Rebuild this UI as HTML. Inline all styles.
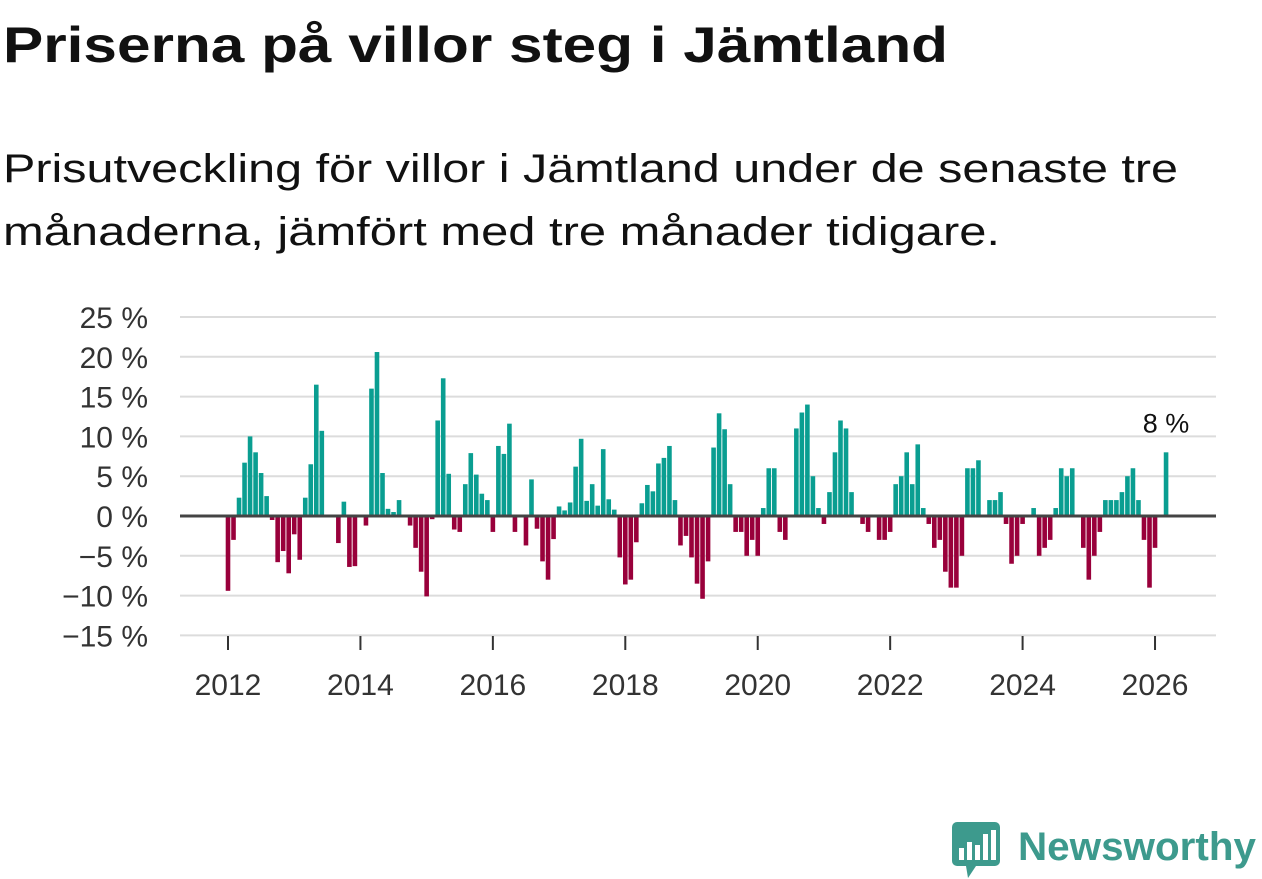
<!DOCTYPE html>
<html><head><meta charset="utf-8"><style>
html,body{margin:0;padding:0;background:#fff;}
svg{display:block;font-family:"Liberation Sans",sans-serif;}
</style></head><body>
<svg id="chart" width="1262" height="879" viewBox="0 0 1262 879">
<text x="3" y="62" font-size="50" font-weight="bold" fill="#111" textLength="945" lengthAdjust="spacingAndGlyphs">Priserna på villor steg i Jämtland</text>
<text x="3" y="182" font-size="40" fill="#111" textLength="1175" lengthAdjust="spacingAndGlyphs">Prisutveckling för villor i Jämtland under de senaste tre</text>
<text x="3" y="245" font-size="40" fill="#111" textLength="997" lengthAdjust="spacingAndGlyphs">månaderna, jämfört med tre månader tidigare.</text>
<g id="grid"></g><g id="bars"></g><g id="axes"></g>
<g>
<rect x="952" y="822" width="48" height="44" rx="5" fill="#3d9a8d"/>
<polygon points="966,866 976,866 968,878" fill="#3d9a8d"/>
<rect x="959" y="848" width="5" height="12" fill="#fff"/><rect x="967" y="842" width="5" height="18" fill="#fff"/><rect x="975" y="845" width="5" height="15" fill="#fff"/><rect x="983" y="834" width="5" height="26" fill="#fff"/><rect x="991" y="830" width="5" height="30" fill="#fff"/>
<text x="1018" y="860" font-size="40" font-weight="bold" fill="#3d9a8d" textLength="238" lengthAdjust="spacingAndGlyphs">Newsworthy</text>
</g>
</svg>
<script>
const startYear = 2012;
const values = [
-9.4,-3,2.3,6.7,10,8,5.4,2.5,-0.5,-5.8,-4.4,-7.2,
-2.3,-5.5,2.3,6.5,16.5,10.7,0,0,-3.4,1.8,-6.4,-6.3,
0,-1.2,16,20.6,5.4,0.9,0.5,2,0,-1.2,-4,-7,
-10.1,-0.4,12,17.3,5.3,-1.7,-2,4,7.9,5.2,2.8,2,
-2,8.8,7.8,11.6,-2,0,-3.7,4.6,-1.6,-5.7,-8,-2.9,
1.2,0.7,1.7,6.2,9.7,1.9,4,1.3,8.4,2.1,0.8,-5.2,
-8.6,-8,-3.3,1.6,3.9,3.1,6.6,7.3,8.8,2,-3.7,-2.5,
-5.2,-8.5,-10.4,-5.7,8.6,12.9,10.9,4,-2,-2,-5,-3,
-5,1,6,6,-2,-3,0,11,13,14,5,1,
-1,3,8,12,11,3,0,-1,-2,0,-3,-3,
-2,4,5,8,4,9,1,-1,-4,-3,-7,-9,
-9,-5,6,6,7,0,2,2,3,-1,-6,-5,
-1,0,1,-5,-4,-3,1,6,5,6,0,-4,
-8,-5,-2,2,2,2,3,5,6,2,-3,-9,
-4,0,8
];
const yTicks = [25,20,15,10,5,0,-5,-10,-15];
const xTickYears = [2012,2014,2016,2018,2020,2022,2024,2026];
const lastLabel = "8 %";

const NS="http://www.w3.org/2000/svg";
const y = v => 516 - v*7.96;
const x = i => 228 + i*5.518;
function mk(tag, attrs, parent){const e=document.createElementNS(NS,tag);for(const k in attrs)e.setAttribute(k,attrs[k]);parent.appendChild(e);return e;}
const grid=document.getElementById('grid'), bars=document.getElementById('bars'), axes=document.getElementById('axes');
yTicks.forEach(t=>{
  if(t!==0){const l=mk('line',{x1:180,x2:1216,y1:y(t),y2:y(t),stroke:'#dcdcdc','stroke-width':2},grid);
  
  }
  const tx=mk('text',{x:148,y:y(t)+11,'font-size':30,fill:'#333','text-anchor':'end'},axes);
  tx.textContent=(t<0?'\u2212'+(-t):t)+' %';
  
  
});
values.forEach((v,i)=>{
  if(v===0) return;
  const r=mk('rect',{x:x(i)-2.3,width:4.6,y:Math.min(y(v),516),height:Math.abs(y(v)-516),fill:v>0?'#0a9e91':'#99003b'},bars);
  
  
});
const z=mk('line',{x1:180,x2:1216,y1:516,y2:516,stroke:'#444','stroke-width':3},axes);


xTickYears.forEach(yr=>{
  const i=(yr-startYear)*12;
  const tk=mk('line',{x1:x(i),x2:x(i),y1:636,y2:650,stroke:'#333','stroke-width':2},axes);
  
  
  const tx=mk('text',{x:x(i),y:695,'font-size':30,fill:'#333','text-anchor':'middle'},axes);
  tx.textContent=yr;
  
  
});
const li=values.length-1;
const lab=mk('text',{x:x(li),y:y(values[li])-20,'font-size':27,fill:'#111','text-anchor':'middle',stroke:'#fff','stroke-width':5,'paint-order':'stroke'},axes);
lab.textContent=lastLabel;


</script>
</body></html>
